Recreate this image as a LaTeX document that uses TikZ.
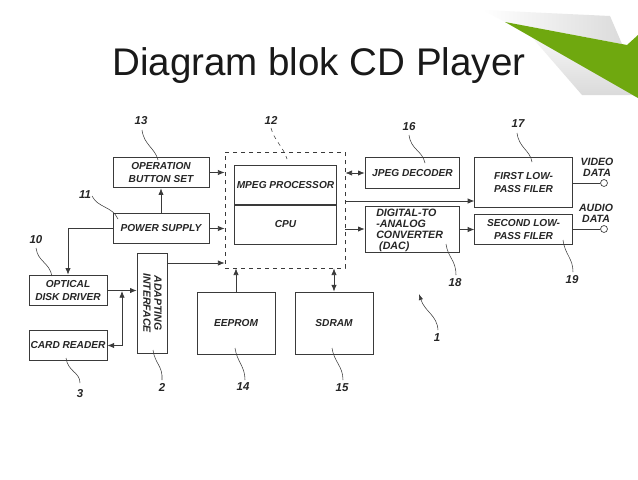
\documentclass[tikz,border=0pt]{standalone}
\usepackage{fontspec}
\setmainfont{Liberation Sans}
\usetikzlibrary{arrows.meta,calc}
\definecolor{ink}{HTML}{3A3A3A}
\definecolor{leafgreen}{HTML}{6FA80F}
\tikzset{
  box/.style={draw=ink,line width=0.7pt,inner sep=0pt,align=center,font=\fontsize{7.6}{9.6}\selectfont\bfseries\itshape,text=black!85},
  conn/.style={draw=ink,line width=0.55pt},
  arr/.style={conn,-{Latex[length=5pt,width=4pt]}},
  darr/.style={conn,{Latex[length=5pt,width=4pt]}-{Latex[length=5pt,width=4pt]}},
  lead/.style={draw=ink,line width=0.4pt},
  num/.style={inner sep=0pt,font=\fontsize{8.6}{9}\selectfont\bfseries\itshape,text=black!85},
  lab/.style={inner sep=0pt,align=center,font=\fontsize{7.9}{8.2}\selectfont\bfseries\itshape,text=black!85},
  term/.style={circle,draw=ink,line width=0.5pt,minimum size=5.2pt,inner sep=0pt,fill=white},
}
\begin{document}
\begin{tikzpicture}[x=0.75pt,y=-0.75pt]
\useasboundingbox (0,0) rectangle (638,479);
\fill[white] (0,0) rectangle (638,479);
% page curl
\shade[top color=black!3,bottom color=black!15] (530,35) -- (638,78) -- (638,98) -- (632,95) -- (582,95) -- cycle;
\shade[left color=white,right color=black!14] (483,10) -- (610,16) -- (622,44) -- (505,22) -- cycle;
\fill[leafgreen] (505,22) -- (627,45) -- (638,35) -- (638,98) -- cycle;
% title
\node[inner sep=0pt,anchor=base west,font=\fontsize{28.9}{30}\selectfont,text=black!90] (title) at (112,75) {Diagram blok CD Player};
% boxes
\node[box,minimum width=72pt,minimum height=23pt] (op) at (161,172.5) {OPERATION\\BUTTON SET};
\node[box,minimum width=72pt,minimum height=23pt] (ps) at (161,228.5) {POWER SUPPLY};
\node[box,minimum width=58.5pt,minimum height=23pt] (od) at (68,290.5) {OPTICAL\\DISK DRIVER};
\node[box,minimum width=58.5pt,minimum height=23pt] (cr) at (68,345.5) {CARD READER};
\node[box,minimum width=23pt,minimum height=75pt] (ad) at (152.5,303) {};
\node[lab,rotate=-90] (adt) at (ad.center) {ADAPTING\\INTERFACE};
\node[draw=ink,dashed,line width=0.6pt,minimum width=90pt,minimum height=87pt,inner sep=0pt] (dash) at (285,210) {};
\node[box,minimum width=77pt,minimum height=30pt] (mp) at (285.5,185) {MPEG PROCESSOR};
\node[box,minimum width=77pt,minimum height=29.5pt] (cpu) at (285.5,224.5) {CPU};
\node[box,minimum width=58.5pt,minimum height=46.5pt] (ee) at (236,323) {EEPROM};
\node[box,minimum width=58.5pt,minimum height=46.5pt] (sd) at (334,323) {SDRAM};
\node[box,minimum width=71pt,minimum height=23pt] (jp) at (412.5,173) {JPEG DECODER};
\node[box,minimum width=71pt,minimum height=34.5pt] (dac) at (412.5,229) {};
\node[lab,anchor=west,align=left,font=\fontsize{8}{8.2}\selectfont\bfseries\itshape] (dact) at (376,230) {DIGITAL-TO\\-ANALOG\\CONVERTER\\\ (DAC)};
\node[box,minimum width=73pt,minimum height=37pt] (fl) at (523.5,182.5) {FIRST LOW-\\PASS FILER};
\node[box,minimum width=73pt,minimum height=23pt] (sl) at (523.5,229.5) {SECOND LOW-\\PASS FILER};
\node[term] (vo) at (604,183) {};
\node[term] (ao) at (604,229) {};
\node[lab] (vd) at (597,167) {VIDEO\\DATA};
\node[lab] (ad2) at (596,213) {AUDIO\\DATA};
% connector helper points
\coordinate (adout) at (ad.east |- 0,263);
\coordinate (dashin) at (dash.west |- 0,263);
\coordinate (dashout) at (dash.east |- 0,201);
\coordinate (flin) at (fl.west |- 0,201);
\coordinate (jn) at (122,291);
\coordinate (sdtop) at (sd.north |- dash.south);
% connectors
\draw[arr] (op.east) -- (op.east -| dash.west);
\draw[arr] (ps.east) -- (ps.east -| dash.west);
\draw[arr] (ps.north) -- (op.south);
\draw[arr] (ps.west) -| (od.north);
\draw[arr] (adout) -- (dashin);
\draw[arr] (od.east) -- (od.east -| ad.west);
\draw[darr] (cr.east) -| (jn);
\draw[arr] (ee.north) -- (ee.north |- dash.south);
\draw[darr] (sdtop) -- (sd.north);
\draw[darr] (dash.east |- jp.west) -- (jp.west);
\draw[arr] (dashout) -- (flin);
\draw[arr] (dash.east |- dac.west) -- (dac.west);
\draw[arr] (dac.east |- sl.west) -- (sl.west);
\draw[conn] (fl.east |- vo) -- (vo);
\draw[conn] (sl.east |- ao) -- (ao);
% numbers and leaders
\node[num] (n13) at (141,121) {13};
\node[num] (n12) at (271,120) {12};
\node[num] (n11) at (85,195) {11};
\node[num] (n10) at (36,240) {10};
\node[num] (n16) at (409,127) {16};
\node[num] (n17) at (518,124) {17};
\node[num] (n18) at (455,283) {18};
\node[num] (n19) at (572,280) {19};
\node[num] (n3) at (80,394) {3};
\node[num] (n2) at (162,387) {2};
\node[num] (n14) at (243,387) {14};
\node[num] (n15) at (342,388) {15};
\node[num] (n1) at (437,338) {1};
\coordinate (t1) at (419,294);
\draw[lead] (142,130) .. controls (144,145) and (155,148) .. (158,160);
\draw[lead,dashed] (271,128) .. controls (274,140) and (284,148) .. (287,159);
\draw[lead] (92,196) .. controls (98,208) and (112,206) .. (118,219);
\draw[lead] (36,248) .. controls (38,262) and (49,262) .. (52,276);
\draw[lead] (409,135) .. controls (411,150) and (422,150) .. (425,163);
\draw[lead] (517,133) .. controls (519,148) and (530,150) .. (532,162);
\draw[lead] (446,244) .. controls (448,258) and (456,260) .. (456,275);
\draw[lead] (563,240) .. controls (565,255) and (573,258) .. (573,272);
\draw[lead] (66,358) .. controls (68,372) and (80,372) .. (80,383);
\draw[lead] (153,350) .. controls (155,364) and (163,366) .. (162,380);
\draw[lead] (235,348) .. controls (237,362) and (245,366) .. (245,380);
\draw[lead] (332,348) .. controls (334,362) and (343,366) .. (343,380);
\draw[lead,-{Latex[length=4.5pt,width=3.2pt]}] (438,330) .. controls (437,315) and (425,312) .. (t1);
\end{tikzpicture}
\end{document}
